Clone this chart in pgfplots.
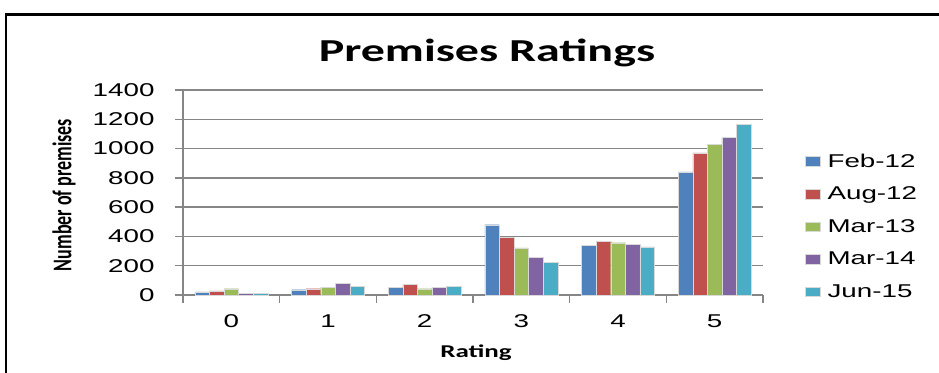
\documentclass[border=0pt]{standalone}
\usepackage{pgfplots}
\pgfplotsset{compat=1.18}
\usepackage{fontspec}
\setmainfont{Liberation Sans}[FakeStretch=1.5]
\newfontfamily\calib{Carlito}[FakeStretch=1.5]
\newfontfamily\calibplain{Carlito}
\definecolor{cA}{HTML}{4F81BD}
\definecolor{cB}{HTML}{C0504D}
\definecolor{cC}{HTML}{9BBB59}
\definecolor{cD}{HTML}{8064A2}
\definecolor{cE}{HTML}{4BACC6}
\definecolor{axgray}{HTML}{868686}
\pgfplotstableread{
x feb12 aug12 mar13 mar14 jun15
0 22 29 43 9 9
1 36 43 52 80 59
2 52 72 43 52 59
3 480 394 321 257 223
4 337 364 357 344 328
5 841 970 1027 1077 1166
}\datatab
\begin{document}
\begin{tikzpicture}[x=1pt,y=1pt]
\useasboundingbox (0,0) rectangle (939,372);
\fill[white] (0,0) rectangle (939,372);
\draw[line width=2.6pt,black] (6,-20) -- (6,357.5) -- (960,357.5);
\node[font=\calib\bfseries\fontsize{32}{34}\selectfont, anchor=base] at (487,310) {Premises Ratings};
\begin{axis}[
  at={(183pt,77pt)}, anchor=south west,
  scale only axis, width=580pt, height=205pt,
  xmin=-0.5, xmax=5.5, ymin=0, ymax=1400,
  ybar=0pt, bar width=14.6pt,
  axis x line*=bottom, axis y line*=left,
  axis line style={-, draw=axgray, line width=1.6pt},
  ytick={0,200,...,1400},
  xtick={0,...,5},
  major x tick style={draw=none},
  minor xtick={-0.5,0.5,...,5.5},
  minor x tick style={draw=axgray, line width=1.4pt},
  major y tick style={draw=axgray, line width=1.4pt},
  tick align=outside,
  major tick length=8pt, minor tick length=8pt,
  ymajorgrids, grid style={draw=axgray, line width=1.4pt},
  /pgf/number format/assume math mode=true,
  /pgf/number format/1000 sep={},
  ticklabel style={font=\fontsize{18.5}{20}\selectfont},
  yticklabel style={xshift=-17pt},
  xticklabel style={yshift=-8pt},
  legend style={at={(axis description cs:1.0724,0.70)}, anchor=north west, draw=none, fill=none,
    font=\fontsize{18.5}{20}\selectfont, row sep=14.2pt, inner sep=0pt,
    /tikz/every odd column/.append style={column sep=5pt}},
  legend cell align=left,
  legend image code/.code={\fill[#1] (0pt,-4.7pt) rectangle (15pt,4.7pt);},
  every axis plot/.append style={draw=white!70!gray, line width=0.4pt},
  clip=false,
]
\addplot[fill=cA] table[x=x,y=feb12]{\datatab};
\addplot[fill=cB] table[x=x,y=aug12]{\datatab};
\addplot[fill=cC] table[x=x,y=mar13]{\datatab};
\addplot[fill=cD] table[x=x,y=mar14]{\datatab};
\addplot[fill=cE] table[x=x,y=jun15]{\datatab};
\legend{Feb-12,Aug-12,Mar-13,Mar-14,Jun-15}
\end{axis}
\node[font=\calib\bfseries\fontsize{18}{20}\selectfont, anchor=base] at (476,15) {Rating};
\node[rotate=90, font=\calibplain\bfseries\fontsize{18}{20}\selectfont] at (64,177) {\scalebox{1}[1.5]{Number of premises}};
\end{tikzpicture}
\end{document}
